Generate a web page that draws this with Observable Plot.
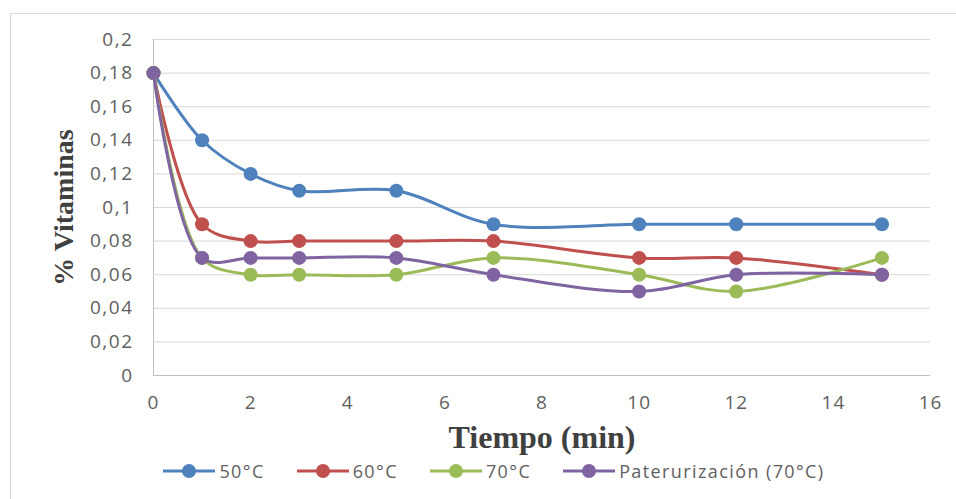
<!DOCTYPE html>
<html><head><meta charset="utf-8">
<script src="https://cdn.jsdelivr.net/npm/d3@7"></script>
<script src="https://cdn.jsdelivr.net/npm/@observablehq/plot@0.6"></script>
<style>
body{margin:0;background:#fff;font-family:"Open Sans",sans-serif;}
#wrap{position:relative;width:956px;height:499px;overflow:hidden;}
#frame{position:absolute;left:10px;top:13px;width:950px;height:500px;border:1px solid #d9d9d9;box-sizing:border-box;}
#chart{position:absolute;left:0;top:0;}
#legend{position:absolute;left:0;top:459px;width:956px;box-sizing:border-box;padding-left:32px;display:flex;justify-content:center;font-size:18px;letter-spacing:1.4px;color:#606060;}
.item{display:flex;align-items:center;margin:0 16px;}
.item svg{margin-right:4px;}
#chart svg [aria-label="y-axis tick label"] text{font-size:19px;fill:#606060;letter-spacing:1.5px;}
#chart svg [aria-label="x-axis tick label"] text{font-size:19px;fill:#606060;letter-spacing:1px;}
</style></head>
<body>
<div id="wrap"><div id="frame"></div><div id="chart"></div><div id="legend"></div></div>
<script>
const tiempo = [0, 1, 2, 3, 5, 7, 10, 12, 15];
const series = ["50°C", "60°C", "70°C", "Paterurización (70°C)"];
const v50 = [0.18, 0.14, 0.12, 0.11, 0.11, 0.09, 0.09, 0.09, 0.09];
const v60 = [0.18, 0.09, 0.08, 0.08, 0.08, 0.08, 0.07, 0.07, 0.06];
const v70 = [0.18, 0.07, 0.06, 0.06, 0.06, 0.07, 0.06, 0.05, 0.07];
const vPast = [0.18, 0.07, 0.07, 0.07, 0.07, 0.06, 0.05, 0.06, 0.06];
const colors = ["#4f81bd", "#c0504d", "#9bbb59", "#8064a2"];
const yTicks = [0, 0.02, 0.04, 0.06, 0.08, 0.1, 0.12, 0.14, 0.16, 0.18, 0.2];
const xTicks = [0, 2, 4, 6, 8, 10, 12, 14, 16];

const allVals = [v50, v60, v70, vPast];
const data = [];
series.forEach((s, i) => tiempo.forEach((t, j) => data.push({serie: s, t, v: allVals[i][j]})));

const fmt = d => String(d).replace(".", ",");
const H = 470;
const plot = Plot.plot({
  width: 956, height: H,
  marginLeft: 153, marginRight: 26, marginTop: 39, marginBottom: H - 375,
  style: {fontFamily: "'Open Sans', sans-serif", fontSize: "18px", color: "#606060", background: "transparent"},
  x: {domain: [0, 16], ticks: xTicks, tickSize: 0, tickPadding: 20, label: "Tiempo (min)", labelAnchor: "center", labelOffset: 72, labelArrow: false},
  y: {domain: [0, 0.2], ticks: yTicks, tickFormat: fmt, tickSize: 0, tickPadding: 20, label: "% Vitaminas", labelAnchor: "center", labelOffset: 100, labelArrow: false},
  color: {domain: series, range: colors},
  marks: [
    Plot.ruleY(yTicks, {stroke: "#d9d9d9", strokeWidth: 1}),
    Plot.ruleX([0], {stroke: "#bfbfbf"}),
    Plot.ruleY([0], {stroke: "#bfbfbf"}),
    Plot.line(data, {x: "t", y: "v", z: "serie", stroke: "serie", curve: "catmull-rom", strokeWidth: 3}),
    Plot.dot(data, {x: "t", y: "v", fill: "serie", r: 7})
  ]
});
document.getElementById("chart").appendChild(plot);
plot.querySelectorAll('[aria-label$="axis label"]').forEach(g => {
  const isX = g.getAttribute("aria-label").startsWith("x");
  g.querySelectorAll("text").forEach(el => {
    el.textContent = el.textContent.replace(/\s*[→↑←↓]\s*/g, "");
    el.style.fontFamily = "'Liberation Serif', 'DejaVu Serif', serif";
    el.style.fontWeight = "bold";
    el.style.fontSize = isX ? "32px" : "28px";
    el.style.fill = "#404040";
  });
});

const leg = document.getElementById("legend");
series.forEach((s, i) => {
  const it = document.createElement("div");
  it.className = "item";
  it.innerHTML = `<svg width="52" height="16"><line x1="0" y1="8" x2="52" y2="8" stroke="${colors[i]}" stroke-width="3"/><circle cx="26" cy="8" r="7" fill="${colors[i]}"/></svg><span>${s}</span>`;
  leg.appendChild(it);
});
</script>
</body></html>
